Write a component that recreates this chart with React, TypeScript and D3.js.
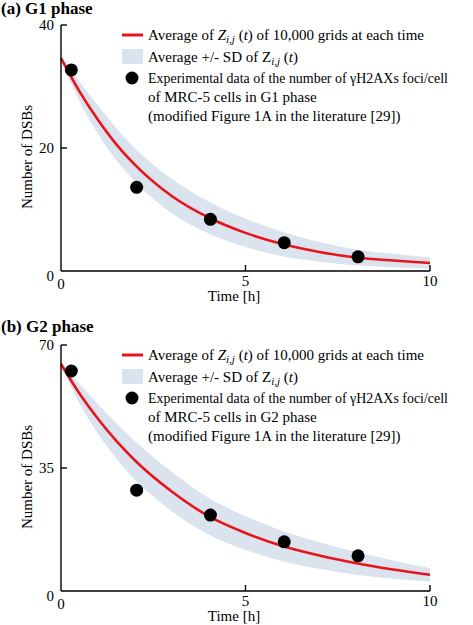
import React from "react";
import * as d3 from "d3";

// ---- data ----
const timeGrid = [0, 0.5, 1, 1.5, 2, 3, 4, 5, 6, 7, 8, 9, 10];
const g1Mean = [34.6, 29.2, 24.6, 20.6, 17.3, 12.2, 8.7, 6.2, 4.4, 3.1, 2.2, 1.7, 1.3];
const g1Sd = [0.3, 1.6, 2.3, 2.6, 2.7, 2.8, 2.6, 2.3, 2.0, 1.6, 1.3, 1.1, 0.95];
const g2Mean = [64.6, 56.2, 49.0, 42.7, 37.2, 28.3, 21.3, 16.5, 12.8, 10.1, 7.9, 6.1, 4.6];
const g2Sd = [0.5, 2.8, 4.2, 5.0, 5.5, 5.6, 5.2, 4.8, 4.3, 3.8, 3.3, 2.6, 1.9];

const expTime = [0.28, 2.05, 4.05, 6.05, 8.05];
const g1Exp = [32.7, 13.6, 8.4, 4.6, 2.3];
const g2Exp = [62.6, 28.7, 21.6, 14.0, 10.0];

const xTicks = [0, 5, 10];
const g1YTicks = [0, 20, 40];
const g2YTicks = [0, 35, 70];

const panels = [
  { title: "(a) G1 phase", phase: "G1", mean: g1Mean, sd: g1Sd, exp: g1Exp, yTicks: g1YTicks, yMax: 40, offset: 0 },
  { title: "(b) G2 phase", phase: "G2", mean: g2Mean, sd: g2Sd, exp: g2Exp, yTicks: g2YTicks, yMax: 70, offset: 320 },
];

const RED = "#e8141b";
const BAND = "#dbe3ee";
const FONT = "'Liberation Serif', 'Times New Roman', serif";
const FS = 15;

function Panel({ p }: { p: (typeof panels)[number] }) {
  const o = p.offset;
  const x = d3.scaleLinear().domain([0, 10]).range([61, 430]);
  const y = d3.scaleLinear().domain([0, p.yMax]).range([271 + o, 25 + o]);
  const rows = timeGrid.map((t, i) => ({ t, m: p.mean[i], s: p.sd[i] }));
  const area = d3
    .area<{ t: number; m: number; s: number }>()
    .x((d) => x(d.t))
    .y0((d) => y(d.m - d.s))
    .y1((d) => y(d.m + d.s))
    .curve(d3.curveMonotoneX);
  const line = d3
    .line<{ t: number; m: number; s: number }>()
    .x((d) => x(d.t))
    .y((d) => y(d.m))
    .curve(d3.curveMonotoneX);
  const y0 = y(0);
  return (
    <g fontFamily={FONT} fill="#000">
      <text x={1} y={14 + o - (o ? 2 : 0)} fontSize={17} fontWeight="bold">
        {p.title}
      </text>
      <path d={area(rows) || ""} fill={BAND} />
      <path d={line(rows) || ""} fill="none" stroke={RED} strokeWidth={2.6} />
      {expTime.map((t, i) => (
        <circle key={i} cx={x(t)} cy={y(p.exp[i])} r={6.5} fill="#000" />
      ))}
      {/* axes */}
      <line x1={61} x2={61} y1={y(p.yMax)} y2={y0} stroke="#000" strokeWidth={1.4} />
      <line x1={61} x2={430} y1={y0} y2={y0} stroke="#000" strokeWidth={1.4} />
      {p.yTicks.map((v) =>
        v === 0 ? null : (
          <g key={v}>
            <line x1={61} x2={67} y1={y(v)} y2={y(v)} stroke="#000" strokeWidth={1.4} />
            <text x={54} y={y(v) + 5} fontSize={FS} textAnchor="end">
              {v}
            </text>
          </g>
        )
      )}
      <text x={54} y={y0 + 10} fontSize={FS} textAnchor="end">
        0
      </text>
      {xTicks.map((v) => (
        <g key={v}>
          {v !== 0 && <line x1={x(v)} x2={x(v)} y1={y0} y2={y0 - 6} stroke="#000" strokeWidth={1.4} />}
          <text x={x(v)} y={y0 + (v === 0 ? 18 : 15)} fontSize={FS} textAnchor="middle">
            {v}
          </text>
        </g>
      ))}
      <text x={234} y={y0 + 30} fontSize={FS} textAnchor="middle">
        Time [h]
      </text>
      <text
        transform={`translate(32,${157 + o}) rotate(-90)`}
        fontSize={FS}
        textAnchor="middle"
      >
        Number of DSBs
      </text>
      {/* legend */}
      <line x1={122} x2={143} y1={35 + o} y2={35 + o} stroke={RED} strokeWidth={3} />
      <text x={148} y={40 + o} fontSize={FS}>
        Average of <tspan fontStyle="italic">Z</tspan>
        <tspan fontStyle="italic" fontSize={11} dy={3}>
          i,j
        </tspan>
        <tspan dy={-3}> (</tspan>
        <tspan fontStyle="italic">t</tspan>) of 10,000 grids at each time
      </text>
      <rect x={122} y={49 + o} width={21} height={15} fill={BAND} />
      <text x={148} y={62 + o} fontSize={FS}>
        Average +/- SD of Z
        <tspan fontStyle="italic" fontSize={11} dy={3}>
          i,j
        </tspan>
        <tspan dy={-3}> (</tspan>
        <tspan fontStyle="italic">t</tspan>)
      </text>
      <circle cx={132} cy={78 + o} r={6.5} fill="#000" />
      <text x={148} y={83 + o} fontSize={FS} textLength={300} lengthAdjust="spacingAndGlyphs">
        Experimental data of the number of γH2AXs foci/cell
      </text>
      <text x={148} y={102 + o} fontSize={FS}>
        of MRC-5 cells in {p.phase} phase
      </text>
      <text x={148} y={121 + o} fontSize={FS}>
        (modified Figure 1A in the literature [29])
      </text>
    </g>
  );
}

export default function App() {
  return (
    <svg
      width={473}
      height={625}
      style={{ position: "absolute", left: 0, top: 0, background: "#fff" }}
    >
      <rect width={473} height={625} fill="#fff" />
      {panels.map((p) => (
        <Panel key={p.title} p={p} />
      ))}
    </svg>
  );
}
